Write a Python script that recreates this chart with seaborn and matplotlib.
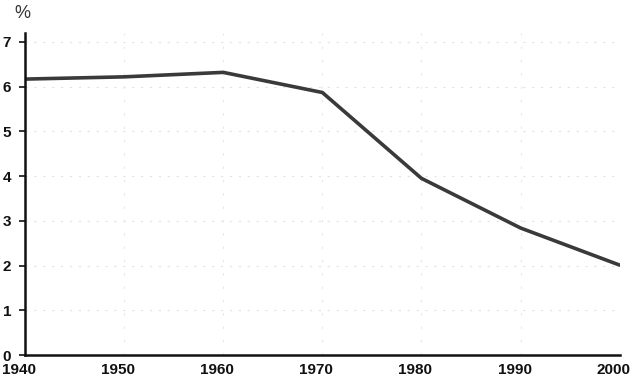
import matplotlib
matplotlib.use("Agg")
import matplotlib.pyplot as plt
import matplotlib.transforms as mtransforms
import seaborn as sns
import pandas as pd

years = [1940, 1950, 1960, 1970, 1980, 1990, 2000]
values = [6.17, 6.22, 6.32, 5.87, 3.95, 2.84, 2.01]
yticks = [0, 1, 2, 3, 4, 5, 6, 7]
xticks = [1940, 1950, 1960, 1970, 1980, 1990, 2000]

sns.set_theme(style="white")
plt.rcParams['font.family'] = ['Liberation Sans', 'DejaVu Sans']

df = pd.DataFrame({"year": years, "value": values})

fig = plt.figure(figsize=(6.33, 3.84), dpi=100)
ax = fig.add_axes([0.0395, 0.0755, 0.9395, 0.8385])

for y in yticks[1:]:
    ax.axhline(y, color="#e2e2e2", lw=0.8, ls=(0, (2, 6)), zorder=0)
for x in xticks[1:-1]:
    ax.axvline(x, color="#e6e6e6", lw=0.8, ls=(0, (2, 10)), zorder=0)

sns.lineplot(data=df, x="year", y="value", ax=ax, color="#3a3a3a", lw=2.6)

ax.set_xlim(1940, 2000)
ax.set_ylim(0, 7.2)
ax.set_xticks(xticks)
ax.set_yticks(yticks)
ax.set_xticklabels([str(x) for x in xticks], fontsize=11, fontweight="bold", color="#111111")
ax.set_yticklabels([str(y) for y in yticks], fontsize=11, fontweight="bold", color="#111111")
ax.set_xlabel("")
ax.set_ylabel("")
for s in ["top", "right"]:
    ax.spines[s].set_visible(False)
for s in ["left", "bottom"]:
    ax.spines[s].set_color("#111111")
    ax.spines[s].set_linewidth(1.8)
ax.tick_params(axis="y", length=4, width=1.2, color="#111111", pad=6, left=True)
ax.tick_params(axis="x", length=0, pad=6)

offset = mtransforms.ScaledTranslation(-6 / 100, 0, fig.dpi_scale_trans)
for lbl in ax.get_xticklabels():
    lbl.set_transform(lbl.get_transform() + offset)

fig.text(0.022, 0.965, "%", fontsize=13, color="#333333", ha="left", va="center")

fig.savefig("out.png", dpi=100)
